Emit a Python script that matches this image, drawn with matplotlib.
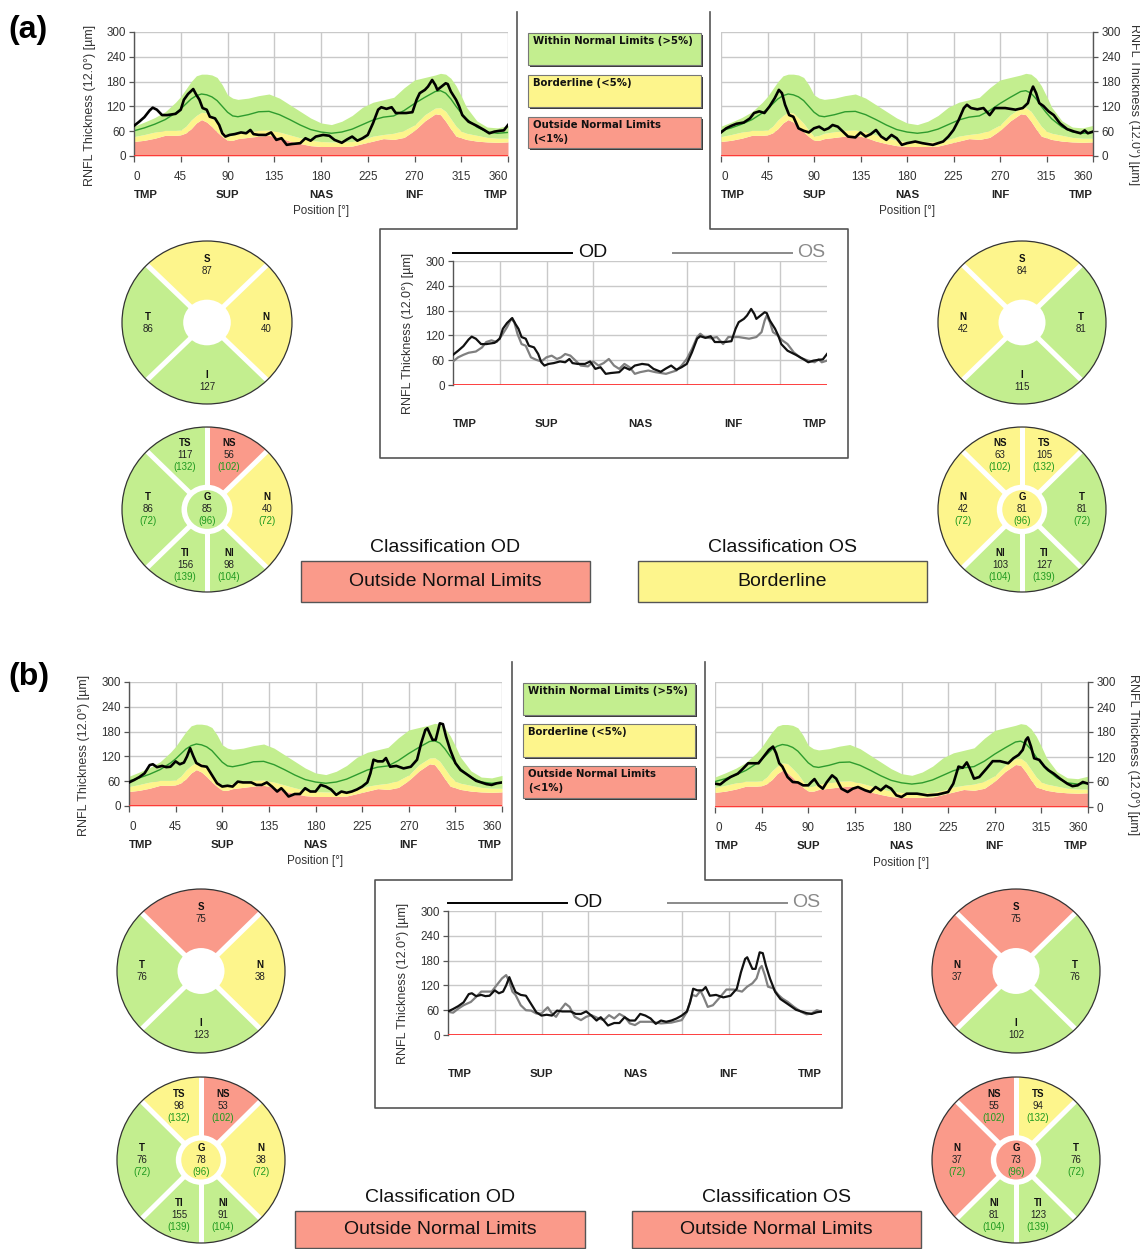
import numpy as np
import matplotlib
matplotlib.use('Agg')
import matplotlib.pyplot as plt
import matplotlib.transforms as mtransforms
from matplotlib.patches import Wedge, Circle, Rectangle
from matplotlib.lines import Line2D

plt.rcParams['font.family'] = ['Liberation Sans', 'DejaVu Sans']

W, H = 1140, 1249

GREEN = '#c3ee8f'
YELLOW = '#fdf58c'
RED = '#fa9a8a'
CLS_COLOR = {'W': GREEN, 'B': YELLOW, 'O': RED}

# normative database (identical in every TSNIT plot)
NORM_DEG    = [0, 10, 20, 30, 40, 45, 50, 55, 60, 65, 70, 75, 80, 85, 90, 95, 100, 110, 120, 130, 140, 150, 160, 170, 180, 190, 200, 210, 220, 230, 240, 250, 260, 270, 280, 290, 295, 300, 305, 310, 315, 320, 330, 340, 350, 360]
NORM_RED    = [35, 38, 43, 50, 50, 51, 56, 66, 80, 88, 82, 71, 58, 47, 38, 38, 42, 45, 48, 50, 45, 36, 30, 25, 23, 23, 23, 24, 30, 36, 42, 40, 45, 62, 85, 102, 100, 84, 65, 48, 44, 40, 36, 34, 33, 34]
NORM_YELLOW = [47, 52, 58, 62, 62, 63, 72, 87, 98, 106, 104, 92, 79, 62, 48, 50, 55, 59, 62, 63, 58, 51, 44, 38, 35, 34, 34, 35, 40, 48, 52, 55, 62, 75, 100, 116, 117, 108, 90, 72, 60, 55, 50, 45, 43, 43]
NORM_GREEN  = [72, 82, 93, 107, 130, 144, 162, 180, 194, 198, 198, 196, 190, 172, 148, 140, 137, 140, 146, 150, 140, 124, 108, 92, 80, 76, 84, 98, 118, 130, 136, 142, 165, 184, 190, 196, 200, 198, 188, 170, 145, 118, 85, 70, 68, 74]
NORM_MEAN   = [61, 68, 77, 88, 104, 114, 126, 138, 146, 150, 148, 143, 134, 120, 106, 97, 95, 100, 107, 108, 100, 88, 75, 64, 58, 55, 58, 65, 76, 87, 94, 97, 110, 127, 142, 156, 158, 152, 138, 120, 104, 90, 70, 58, 55, 57]

# (a) measured RNFL thickness
A_OD_DEG = [0, 5, 10, 15, 18, 22, 27, 32, 40, 45, 48, 52, 57, 60, 63, 66, 70, 73, 78, 82, 85, 88, 92, 97, 103, 108, 112, 115, 120, 127, 132, 137, 142, 147, 152, 160, 165, 170, 175, 182, 188, 193, 200, 205, 210, 215, 220, 225, 230, 235, 238, 243, 248, 252, 257, 262, 268, 272, 275, 280, 283, 287, 290, 292, 296, 300, 302, 305, 310, 313, 316, 322, 330, 337, 342, 347, 352, 356, 360]
A_OD_VAL = [73, 83, 94, 110, 117, 112, 99, 99, 102, 112, 136, 150, 162, 148, 136, 116, 112, 95, 91, 75, 55, 47, 51, 53, 57, 55, 63, 53, 51, 51, 57, 39, 43, 27, 29, 31, 43, 37, 47, 51, 49, 39, 32, 40, 47, 37, 43, 51, 79, 112, 118, 114, 118, 104, 104, 104, 106, 136, 152, 160, 168, 184, 172, 160, 168, 176, 174, 156, 136, 120, 99, 83, 73, 63, 55, 59, 61, 62, 75]
A_OS_DEG = [0, 5, 10, 15, 22, 28, 32, 37, 42, 47, 52, 56, 59, 62, 66, 70, 75, 80, 85, 90, 95, 100, 104, 108, 113, 118, 123, 130, 135, 140, 145, 150, 155, 160, 165, 170, 175, 180, 188, 195, 205, 215, 220, 225, 230, 235, 238, 242, 248, 254, 260, 265, 275, 285, 292, 297, 300, 302, 305, 308, 312, 317, 322, 328, 335, 342, 348, 352, 355, 360]
A_OS_VAL = [57, 67, 73, 78, 81, 91, 104, 108, 104, 120, 140, 160, 152, 124, 99, 95, 67, 61, 57, 67, 71, 63, 67, 75, 71, 59, 47, 45, 57, 47, 53, 63, 47, 39, 51, 43, 27, 31, 35, 31, 27, 35, 47, 63, 87, 116, 124, 116, 113, 116, 99, 116, 116, 112, 116, 128, 156, 168, 152, 128, 121, 108, 99, 79, 65, 59, 55, 62, 55, 59]

# (b) measured RNFL thickness
B_OD_DEG = [0, 5, 10, 15, 20, 23, 27, 32, 36, 40, 45, 49, 53, 56, 59, 62, 65, 70, 75, 80, 85, 90, 95, 100, 105, 110, 118, 123, 128, 133, 138, 143, 147, 150, 154, 160, 165, 170, 175, 180, 185, 190, 195, 200, 205, 210, 215, 220, 225, 230, 233, 236, 240, 245, 248, 252, 258, 265, 272, 278, 282, 286, 288, 293, 296, 300, 303, 306, 310, 315, 320, 327, 335, 345, 350, 355, 360]
B_OD_VAL = [57, 63, 70, 79, 99, 101, 94, 97, 94, 95, 108, 101, 105, 120, 140, 121, 104, 97, 95, 75, 55, 47, 49, 47, 59, 57, 57, 51, 51, 57, 47, 35, 43, 35, 23, 29, 29, 43, 35, 35, 51, 47, 40, 27, 35, 32, 35, 40, 47, 57, 79, 112, 108, 108, 116, 95, 97, 91, 95, 112, 152, 184, 188, 160, 160, 200, 198, 168, 136, 104, 87, 75, 61, 53, 51, 55, 57]
B_OS_DEG = [0, 5, 10, 15, 22, 27, 32, 37, 42, 47, 52, 56, 59, 62, 65, 70, 75, 80, 85, 90, 93, 96, 100, 104, 108, 113, 117, 122, 128, 133, 138, 145, 150, 155, 160, 165, 170, 175, 180, 185, 195, 205, 215, 225, 230, 235, 239, 243, 246, 250, 255, 262, 268, 275, 283, 288, 293, 297, 300, 302, 305, 308, 313, 318, 322, 327, 333, 340, 345, 350, 355, 360]
B_OS_VAL = [56, 54, 64, 72, 80, 92, 105, 105, 105, 121, 137, 145, 129, 105, 97, 72, 60, 59, 52, 52, 60, 67, 52, 44, 60, 76, 68, 44, 36, 44, 48, 40, 36, 48, 40, 51, 44, 28, 24, 32, 32, 28, 30, 36, 56, 97, 94, 107, 92, 68, 72, 92, 110, 110, 105, 117, 125, 137, 161, 167, 145, 117, 113, 97, 88, 80, 68, 56, 50, 52, 60, 56]

SECTOR_POS = [0, 90, 180, 270, 360]
SECTOR_NAMES = ['TMP', 'SUP', 'NAS', 'INF', 'TMP']

# sector charts: quadrants ordered top, right, bottom, left
A_OD_QUAD = ['S', 'N', 'I', 'T']
A_OD_QUAD_VAL = [87, 40, 127, 86]
A_OD_QUAD_CLS = ['B', 'B', 'W', 'W']
A_OS_QUAD = ['S', 'T', 'I', 'N']
A_OS_QUAD_VAL = [84, 81, 115, 42]
A_OS_QUAD_CLS = ['B', 'W', 'W', 'B']
B_OD_QUAD = ['S', 'N', 'I', 'T']
B_OD_QUAD_VAL = [75, 38, 123, 76]
B_OD_QUAD_CLS = ['O', 'B', 'W', 'W']
B_OS_QUAD = ['S', 'T', 'I', 'N']
B_OS_QUAD_VAL = [75, 76, 102, 37]
B_OS_QUAD_CLS = ['O', 'W', 'W', 'O']

# six sectors ordered upper-left, upper-right, right, lower-right, lower-left, left, then global
A_OD_SIX = ['TS', 'NS', 'N', 'NI', 'TI', 'T', 'G']
A_OD_SIX_VAL = [117, 56, 40, 98, 156, 86, 85]
A_OD_SIX_NORM = [132, 102, 72, 104, 139, 72, 96]
A_OD_SIX_CLS = ['W', 'O', 'B', 'W', 'W', 'W', 'W']
A_OS_SIX = ['NS', 'TS', 'T', 'TI', 'NI', 'N', 'G']
A_OS_SIX_VAL = [63, 105, 81, 127, 103, 42, 81]
A_OS_SIX_NORM = [102, 132, 72, 139, 104, 72, 96]
A_OS_SIX_CLS = ['B', 'B', 'W', 'W', 'W', 'B', 'B']
B_OD_SIX = ['TS', 'NS', 'N', 'NI', 'TI', 'T', 'G']
B_OD_SIX_VAL = [98, 53, 38, 91, 155, 76, 78]
B_OD_SIX_NORM = [132, 102, 72, 104, 139, 72, 96]
B_OD_SIX_CLS = ['B', 'O', 'B', 'W', 'W', 'W', 'B']
B_OS_SIX = ['NS', 'TS', 'T', 'TI', 'NI', 'N', 'G']
B_OS_SIX_VAL = [55, 94, 76, 123, 81, 37, 73]
B_OS_SIX_NORM = [102, 132, 72, 139, 104, 72, 96]
B_OS_SIX_CLS = ['O', 'B', 'W', 'W', 'W', 'O', 'O']

CLASS_TEXT = {'O': 'Outside Normal Limits', 'B': 'Borderline', 'W': 'Within Normal Limits'}

LEGEND_TEXT = ['Within Normal Limits (>5%)', 'Borderline (<5%)', 'Outside Normal Limits\n(<1%)']
LEGEND_CLS = ['W', 'B', 'O']

QUAD_ANGLES = [(45, 135), (-45, 45), (225, 315), (135, 225)]
QUAD_TEXT_PX = [(0, 58), (59, 0), (0, -58), (-59, 0)]
SIX_ANGLES = [(90, 135), (45, 90), (-45, 45), (270, 315), (225, 270), (135, 225)]
SIX_TEXT_PX = [(-22, 54), (22, 54), (60, 0), (22, -55), (-22, -55), (-59, 0), (0, 0)]

YLABEL = 'RNFL Thickness (12.0°) [µm]'
TXT = '#333333'

fig = plt.figure(figsize=(W / 100, H / 100), dpi=100)


def px_axes(box):
    x0, y0, x1, y1 = box
    return fig.add_axes([x0 / W, 1 - y1 / H, (x1 - x0) / W, (y1 - y0) / H])


def fxy(x, y):
    return x / W, 1 - y / H


def sector_labels(ax):
    tr = mtransforms.blended_transform_factory(ax.transData, ax.transAxes)
    for i, (pos, name) in enumerate(zip(SECTOR_POS, SECTOR_NAMES)):
        ha = 'left' if i == 0 else ('right' if i == len(SECTOR_POS) - 1 else 'center')
        ax.text(pos, -0.315, name, transform=tr, ha=ha, va='center',
                fontsize=8.2, fontweight='bold', color='#222222')


def base_axis(ax, side):
    ax.set_xlim(0, 360)
    ax.set_ylim(0, 300)
    ax.set_yticks(range(0, 301, 60))
    ax.grid(True, color='#c9c9c9', lw=1.0)
    ax.set_axisbelow(True)
    for s in ax.spines.values():
        s.set_visible(False)
    ax.spines[side].set_visible(True)
    ax.spines[side].set_color('#555555')
    ax.spines[side].set_linewidth(1.0)
    ax.axhline(0, color='#ff3030', lw=1.3, zorder=4)
    ax.tick_params(axis='y', length=3.5, width=0.9, color='#555555',
                   labelsize=8.4, labelcolor=TXT, pad=2.5)
    if side == 'right':
        ax.yaxis.tick_right()
    sector_labels(ax)


def tsnit_chart(box, deg, val, side):
    ax = px_axes(box)
    ax.fill_between(NORM_DEG, 0, NORM_RED, color=RED, lw=0, zorder=1)
    ax.fill_between(NORM_DEG, NORM_RED, NORM_YELLOW, color=YELLOW, lw=0, zorder=1)
    ax.fill_between(NORM_DEG, NORM_YELLOW, NORM_GREEN, color=GREEN, lw=0, zorder=1)
    ax.plot(NORM_DEG, NORM_MEAN, color='#2e9b2e', lw=1.0, zorder=2)
    ax.plot(deg, val, color='black', lw=1.9, zorder=3)
    base_axis(ax, side)
    ax.set_xticks(range(0, 361, 45))
    ax.set_xticklabels([str(t) for t in range(0, 361, 45)])
    ax.tick_params(axis='x', length=4, width=0.9, color='#555555',
                   labelsize=8.4, labelcolor=TXT, pad=7)
    labs = ax.get_xticklabels()
    labs[0].set_ha('left')
    labs[-1].set_ha('right')
    tr = mtransforms.blended_transform_factory(ax.transData, ax.transAxes)
    ax.text(180, -0.445, 'Position [°]', transform=tr, ha='center', va='center',
            fontsize=8.4, color=TXT)
    return ax


def middle_chart(box, od_deg, od_val, os_deg, os_val):
    ax = px_axes(box)
    ax.plot(os_deg, os_val, color='#808080', lw=1.6, zorder=3)
    ax.plot(od_deg, od_val, color='#111111', lw=1.6, zorder=3)
    base_axis(ax, 'left')
    ax.set_xticks([45, 90, 135, 225, 270, 315])
    ax.tick_params(axis='x', length=0, labelbottom=False)
    ax.plot([0, 0.318], [1.065, 1.065], transform=ax.transAxes, clip_on=False,
            color='black', lw=1.4)
    ax.text(0.334, 1.065, 'OD', transform=ax.transAxes, ha='left', va='center',
            fontsize=14, color='#111111')
    ax.plot([0.588, 0.906], [1.065, 1.065], transform=ax.transAxes, clip_on=False,
            color='#8a8a8a', lw=1.4)
    ax.text(0.92, 1.065, 'OS', transform=ax.transAxes, ha='left', va='center',
            fontsize=14, color='#8a8a8a')
    return ax


def donut_axes(box):
    ax = px_axes(box)
    ax.set_xlim(-1, 1)
    ax.set_ylim(-1, 1)
    ax.axis('off')
    return ax, 2 / (box[2] - box[0]), 2 / (box[3] - box[1])


def separators(ax, angles):
    for a in angles:
        r = np.radians(a)
        ax.plot([0, np.cos(r)], [0, np.sin(r)], color='white', lw=3.6,
                solid_capstyle='butt', zorder=2)


def quad_donut(box, labels, values, classes):
    ax, sx, sy = donut_axes(box)
    for (t1, t2), c in zip(QUAD_ANGLES, classes):
        ax.add_patch(Wedge((0, 0), 1, t1, t2, facecolor=CLS_COLOR[c], edgecolor='none', zorder=1))
    separators(ax, [45, 135, 225, 315])
    ax.add_patch(Circle((0, 0), 0.28, facecolor='white', edgecolor='none', zorder=3))
    ax.add_patch(Circle((0, 0), 1, fill=False, edgecolor='#333333', lw=0.9, zorder=4, clip_on=False))
    for (px, py), lab, v in zip(QUAD_TEXT_PX, labels, values):
        ax.text(px * sx, (py + 6) * sy, lab, ha='center', va='center', fontsize=7,
                fontweight='bold', color='#111111', zorder=5)
        ax.text(px * sx, (py - 6) * sy, str(v), ha='center', va='center', fontsize=7,
                color='#222222', zorder=5)


def six_donut(box, labels, values, norms, classes):
    ax, sx, sy = donut_axes(box)
    for (t1, t2), c in zip(SIX_ANGLES, classes[:6]):
        ax.add_patch(Wedge((0, 0), 1, t1, t2, facecolor=CLS_COLOR[c], edgecolor='none', zorder=1))
    separators(ax, [45, 90, 135, 225, 270, 315])
    ax.add_patch(Circle((0, 0), 0.30, facecolor='white', edgecolor='none', zorder=3))
    ax.add_patch(Circle((0, 0), 0.235, facecolor=CLS_COLOR[classes[6]], edgecolor='none', zorder=3))
    ax.add_patch(Circle((0, 0), 1, fill=False, edgecolor='#333333', lw=0.9, zorder=4, clip_on=False))
    for (px, py), lab, v, n in zip(SIX_TEXT_PX, labels, values, norms):
        ax.text(px * sx, (py + 12) * sy, lab, ha='center', va='center', fontsize=7,
                fontweight='bold', color='#111111', zorder=5)
        ax.text(px * sx, py * sy, str(v), ha='center', va='center', fontsize=7,
                color='#222222', zorder=5)
        ax.text(px * sx, (py - 12) * sy, '(%d)' % n, ha='center', va='center', fontsize=7,
                color='#1f9a1f', zorder=5)


def rect_px(x0, y0, x1, y1, **kw):
    r = Rectangle((x0 / W, 1 - y1 / H), (x1 - x0) / W, (y1 - y0) / H,
                  transform=fig.transFigure, **kw)
    fig.add_artist(r)
    return r


def frame_px(pts):
    xs = [p[0] / W for p in pts]
    ys = [1 - p[1] / H for p in pts]
    fig.add_artist(Line2D(xs, ys, transform=fig.transFigure, color='#555555', lw=1.2))


PANELS = [
    dict(tag='(a)', tag_y=30,
         od=(A_OD_DEG, A_OD_VAL), os=(A_OS_DEG, A_OS_VAL),
         left=(134, 32, 508, 156), right=(721, 32, 1093, 156), mid=(453, 261, 827, 385),
         ylab_l=(90, 105), ylab_r=(1134, 105), ylab_m=(408, 333),
         frame=[(517, 12), (517, 229), (380, 229), (380, 458), (848, 458), (848, 229), (710, 229), (710, 12)],
         legend_x=(528, 701), legend_y=[(33, 65), (75, 107), (117, 148)],
         quad_l=(122, 241, 292, 404), six_l=(122, 427, 292, 592),
         quad_r=(938, 241, 1106, 404), six_r=(938, 427, 1106, 592),
         od_quad=(A_OD_QUAD, A_OD_QUAD_VAL, A_OD_QUAD_CLS),
         os_quad=(A_OS_QUAD, A_OS_QUAD_VAL, A_OS_QUAD_CLS),
         od_six=(A_OD_SIX, A_OD_SIX_VAL, A_OD_SIX_NORM, A_OD_SIX_CLS),
         os_six=(A_OS_SIX, A_OS_SIX_VAL, A_OS_SIX_NORM, A_OS_SIX_CLS),
         class_od=('O', 445, 547, (301, 561, 590, 602)),
         class_os=('B', 782, 547, (638, 561, 927, 602))),
    dict(tag='(b)', tag_y=677,
         od=(B_OD_DEG, B_OD_VAL), os=(B_OS_DEG, B_OS_VAL),
         left=(129, 682, 502, 806), right=(715, 682, 1088, 807), mid=(448, 911, 822, 1035),
         ylab_l=(84, 755), ylab_r=(1133, 755), ylab_m=(403, 983),
         frame=[(512, 662), (512, 880), (375, 880), (375, 1108), (842, 1108), (842, 880), (705, 880), (705, 662)],
         legend_x=(523, 695), legend_y=[(683, 715), (724, 757), (766, 798)],
         quad_l=(117, 889, 285, 1053), six_l=(117, 1077, 285, 1243),
         quad_r=(932, 889, 1100, 1053), six_r=(932, 1077, 1100, 1243),
         od_quad=(B_OD_QUAD, B_OD_QUAD_VAL, B_OD_QUAD_CLS),
         os_quad=(B_OS_QUAD, B_OS_QUAD_VAL, B_OS_QUAD_CLS),
         od_six=(B_OD_SIX, B_OD_SIX_VAL, B_OD_SIX_NORM, B_OD_SIX_CLS),
         os_six=(B_OS_SIX, B_OS_SIX_VAL, B_OS_SIX_NORM, B_OS_SIX_CLS),
         class_od=('O', 440, 1197, (295, 1211, 585, 1248)),
         class_os=('O', 777, 1197, (632, 1211, 921, 1248))),
]

for p in PANELS:
    fig.text(*fxy(8, p['tag_y']), p['tag'], fontsize=23, fontweight='bold',
             ha='left', va='center', color='black')

    tsnit_chart(p['left'], p['od'][0], p['od'][1], 'left')
    tsnit_chart(p['right'], p['os'][0], p['os'][1], 'right')
    middle_chart(p['mid'], p['od'][0], p['od'][1], p['os'][0], p['os'][1])
    fig.text(*fxy(*p['ylab_l']), YLABEL, rotation=90, ha='center', va='center',
             fontsize=9, color=TXT)
    fig.text(*fxy(*p['ylab_r']), YLABEL, rotation=270, ha='center', va='center',
             fontsize=9, color=TXT)
    fig.text(*fxy(*p['ylab_m']), YLABEL, rotation=90, ha='center', va='center',
             fontsize=9, color=TXT)

    frame_px(p['frame'])

    lx0, lx1 = p['legend_x']
    for (y0, y1), txt, c in zip(p['legend_y'], LEGEND_TEXT, LEGEND_CLS):
        rect_px(lx0 + 2, y0 + 2, lx1 + 2, y1 + 2, facecolor='#3a3a3a', edgecolor='none')
        box = rect_px(lx0, y0, lx1, y1, facecolor=CLS_COLOR[c], edgecolor='#777777', lw=0.8)
        t = fig.text(*fxy(lx0 + 5, y0 + 3), txt, ha='left', va='top', fontsize=7.3,
                     fontweight='bold', color='#111111', linespacing=1.5,
                     family=['DejaVu Sans'])
        t.set_clip_path(box)

    quad_donut(p['quad_l'], *p['od_quad'])
    quad_donut(p['quad_r'], *p['os_quad'])
    six_donut(p['six_l'], *p['od_six'])
    six_donut(p['six_r'], *p['os_six'])

    for eye, key in (('OD', 'class_od'), ('OS', 'class_os')):
        cls, tx, ty, (bx0, by0, bx1, by1) = p[key]
        fig.text(*fxy(tx, ty), 'Classification ' + eye, ha='center', va='center',
                 fontsize=14, color='#111111')
        rect_px(bx0, by0, bx1, by1, facecolor=CLS_COLOR[cls], edgecolor='#555555', lw=1.0)
        fig.text(*fxy((bx0 + bx1) / 2, (by0 + by1) / 2), CLASS_TEXT[cls], ha='center',
                 va='center', fontsize=14, color='#111111')

fig.savefig('out.png', dpi=100)
